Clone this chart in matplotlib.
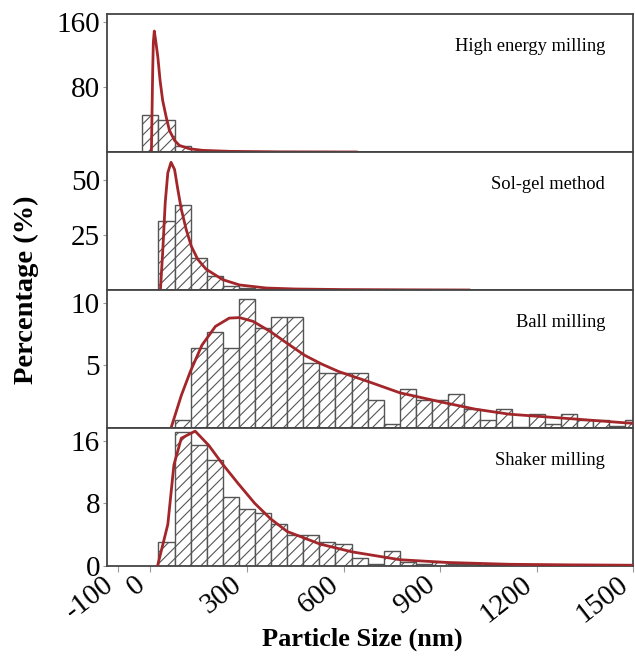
import matplotlib.pyplot as plt

plt.rcParams['font.family'] = ['Liberation Serif', 'DejaVu Serif']
plt.rcParams['hatch.linewidth'] = 0.8

# Histogram bin centres (nm, 50 nm bins) and percentages
hem_bins = [0, 50, 100]
hem_vals = [46, 40, 8]

solgel_bins = [50, 100, 150, 200, 250, 300]
solgel_vals = [31.5, 38.8, 14.5, 6.5, 1.8, 1.0]

ball_bins = [100, 150, 200, 250, 300, 350, 400, 450, 500, 550, 600, 650, 700, 750,
             800, 850, 900, 950, 1000, 1050, 1100, 1150, 1200, 1250, 1300, 1350,
             1400, 1450, 1500]
ball_vals = [0.63, 6.4, 7.66, 6.4, 10.3, 8.0, 8.85, 8.85, 5.15, 4.4, 4.4, 4.4, 2.26, 0.28,
             3.14, 2.26, 2.26, 2.75, 1.5, 0.63, 1.5, 0.1, 1.13, 0.28, 1.13, 0.63,
             0.63, 0.15, 0.63]

shaker_bins = [50, 100, 150, 200, 250, 300, 350, 400, 450, 500, 550, 600, 650, 700,
               750, 800, 850, 900, 950, 1000, 1050, 1100]
shaker_vals = [3.0, 17.1, 15.4, 13.5, 8.8, 7.3, 6.7, 5.3, 4.0, 3.9, 3.05, 2.8, 1.0, 0.27,
               1.9, 0.5, 0.2, 0.56, 0.22, 0.22, 0.13, 0.13]

# Fitted distribution curves
hem_fit_x = [3, 5, 7, 9, 12, 16, 23, 30, 38, 49, 59, 75, 90, 121, 163, 246, 400, 640]
hem_fit_y = [0, 50, 100, 135, 149, 138, 117, 88, 63.5, 43, 26.6, 14.3, 8.1, 4, 2, 0.8, 0.2, 0]

solgel_fit_x = [31, 38, 46, 54, 64, 75, 85, 96, 111, 127, 147, 173, 225, 277, 360, 453, 600, 800, 990]
solgel_fit_y = [0, 17, 40, 53.5, 58.3, 55, 46, 36.8, 27.7, 20, 14, 9.5, 4.7, 2.3, 0.9, 0.45, 0.2, 0.08, 0]

ball_fit_x = [64, 96, 124, 160, 202, 245, 277, 319, 372, 425, 479, 532, 585, 677, 776, 904,
              1010, 1116, 1222, 1328, 1477, 1500]
ball_fit_y = [0, 2.6, 4.5, 6.6, 8.1, 8.76, 8.8, 8.5, 7.7, 6.75, 5.8, 5.1, 4.5, 3.7, 2.8, 2.07,
              1.5, 1.1, 0.9, 0.7, 0.41, 0.38]

shaker_fit_x = [22, 54, 73, 96, 139, 181, 226, 273, 324, 374, 425, 527, 627, 776, 924, 1116, 1300, 1500]
shaker_fit_y = [0, 5.3, 12.9, 16.3, 17.2, 15.4, 12.9, 10.5, 8.0, 6.0, 4.4, 2.8, 1.8, 0.8, 0.45, 0.22, 0.15, 0.1]

names = ['High energy milling', 'Sol-gel method', 'Ball milling', 'Shaker milling']
bins = [hem_bins, solgel_bins, ball_bins, shaker_bins]
vals = [hem_vals, solgel_vals, ball_vals, shaker_vals]
fits_x = [hem_fit_x, solgel_fit_x, ball_fit_x, shaker_fit_x]
fits_y = [hem_fit_y, solgel_fit_y, ball_fit_y, shaker_fit_y]
ylims = [170, 63, 11, 17.6]
yticks = [[80, 160], [25, 50], [5, 10], [0, 8, 16]]
xticks = [-100, 0, 300, 600, 900, 1200, 1500]

fig = plt.figure(figsize=(6.35, 6.60), dpi=100)
left, right = 0.1685, 0.997
bottom, top = 0.1424, 0.9788
h = (top - bottom) / 4

axes = []
for i in range(4):
    ax = fig.add_axes([left, top - (i + 1) * h, right - left, h])
    ax.bar(bins[i], vals[i], width=50, color='white', edgecolor='#555555',
           hatch='///', linewidth=1.0, zorder=2)
    ax.plot(fits_x[i], fits_y[i], color='#a3262a', linewidth=2, zorder=3)
    ax.set_xlim(-135, 1500)
    ax.set_ylim(0, ylims[i])
    ax.set_yticks(yticks[i])
    ax.tick_params(axis='y', direction='out', length=3, color='#999999',
                   labelsize=21, pad=2)
    ax.text(0.947, 0.765, names[i], transform=ax.transAxes, ha='right',
            va='center', fontsize=13.3)
    for s in ax.spines.values():
        s.set_color('#444444')
        s.set_linewidth(1.3)
    if i < 3:
        ax.set_xticks([])
    axes.append(ax)

ax = axes[-1]
ax.set_xticks(xticks)
ax.set_xticklabels([str(t) for t in xticks], rotation=38, ha='right',
                   va='top')
ax.tick_params(axis='x', direction='out', length=4, color='#999999',
               labelsize=21, pad=0)

fig.text(0.041, 0.561, 'Percentage (%)', rotation=90, ha='center', va='center',
         fontsize=20.5, fontweight='bold')
fig.text(0.57, 0.031, 'Particle Size (nm)', ha='center', va='center',
         fontsize=19, fontweight='bold')

fig.savefig('out.png', dpi=100)
